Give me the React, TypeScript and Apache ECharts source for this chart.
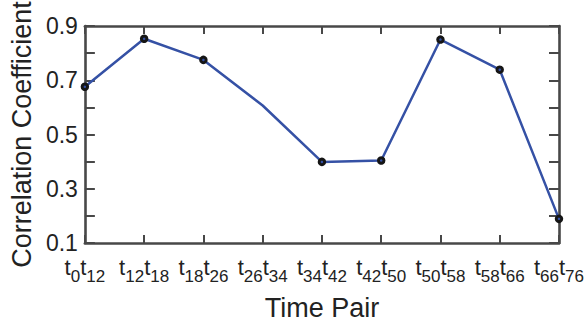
import React, { useEffect, useRef } from "react";
import * as echarts from "echarts";

const pairStarts = ["0", "12", "18", "26", "34", "42", "50", "58", "66"];
const pairEnds = ["12", "18", "26", "34", "42", "50", "58", "66", "76"];
const categories = pairStarts.map((s, i) => `${s}|${pairEnds[i]}`);
const correlation = [0.676, 0.853, 0.775, 0.607, 0.399, 0.404, 0.85, 0.739, 0.189];
const markerHidden = [false, false, false, true, false, false, false, false, false];

const FONT = "Liberation Sans, Arial, Helvetica, sans-serif";
const AXIS_COLOR = "#484848";
const TEXT_COLOR = "#222222";
const LINE_COLOR = "#3551a5";

export default function App() {
  const ref = useRef<HTMLDivElement>(null);
  useEffect(() => {
    if (!ref.current) return;
    const chart = echarts.init(ref.current, undefined, { renderer: "svg" });
    const axisLine = { show: true, onZero: false, lineStyle: { color: AXIS_COLOR, width: 2.6 } };
    const xTick = { show: true, inside: true, length: 8, alignWithLabel: true, lineStyle: { color: AXIS_COLOR, width: 2 } };
    const yTick = { show: true, inside: true, length: 10, lineStyle: { color: AXIS_COLOR, width: 2 } };
    chart.setOption({
      animation: false,
      backgroundColor: "#ffffff",
      grid: { left: 78, right: 28, top: 26, bottom: 78, containLabel: false },
      xAxis: [
        {
          type: "category",
          data: categories,
          boundaryGap: false,
          position: "bottom",
          axisLine,
          axisTick: xTick,
          splitLine: { show: false },
          axisLabel: {
            margin: 13,
            interval: 0,
            formatter: (v: string) => {
              const [a, b] = v.split("|");
              return `{t|t}{s|${a}}{t|t}{s|${b}}`;
            },
            rich: {
              t: { fontSize: 22, fontFamily: FONT, color: TEXT_COLOR, lineHeight: 20, verticalAlign: "top" },
              s: { fontSize: 17, fontFamily: FONT, color: TEXT_COLOR, lineHeight: 20, verticalAlign: "top", padding: [12, 0, 0, 0] },
            },
          },
          name: "Time Pair",
          nameLocation: "middle",
          nameGap: 51,
          nameTextStyle: { fontSize: 27, fontFamily: FONT, color: TEXT_COLOR },
        },
        {
          type: "category",
          data: categories,
          boundaryGap: false,
          position: "top",
          axisLine,
          axisTick: xTick,
          axisLabel: { show: false },
          splitLine: { show: false },
        },
      ],
      yAxis: [
        {
          type: "value",
          min: 0.1,
          max: 0.9,
          interval: 0.1,
          position: "left",
          axisLine,
          axisTick: yTick,
          splitLine: { show: false },
          axisLabel: {
            margin: 7,
            fontSize: 23,
            fontFamily: FONT,
            color: TEXT_COLOR,
            formatter: (v: number) => (Math.round(v * 10) % 2 === 1 ? v.toFixed(1) : ""),
          },
          name: "Correlation Coefficient",
          nameLocation: "middle",
          nameGap: 39,
          nameTextStyle: { fontSize: 27, fontFamily: FONT, color: TEXT_COLOR },
        },
        {
          type: "value",
          min: 0.1,
          max: 0.9,
          interval: 0.1,
          position: "right",
          axisLine,
          axisTick: yTick,
          axisLabel: { show: false },
          splitLine: { show: false },
        },
      ],
      series: [
        {
          type: "line",
          xAxisIndex: 0,
          yAxisIndex: 0,
          data: correlation.map((v, i) => (markerHidden[i] ? { value: v, symbol: "none" } : v)),
          symbol: "circle",
          symbolSize: 5.5,
          showAllSymbol: true,
          lineStyle: { color: LINE_COLOR, width: 2.5 },
          itemStyle: { color: LINE_COLOR, borderColor: "#151515", borderWidth: 3 },
          z: 5,
        },
      ],
    });
    return () => chart.dispose();
  }, []);
  return (
    <div
      ref={ref}
      style={{ position: "absolute", left: 0, top: 0, width: 587, height: 326, overflow: "hidden" }}
    />
  );
}
